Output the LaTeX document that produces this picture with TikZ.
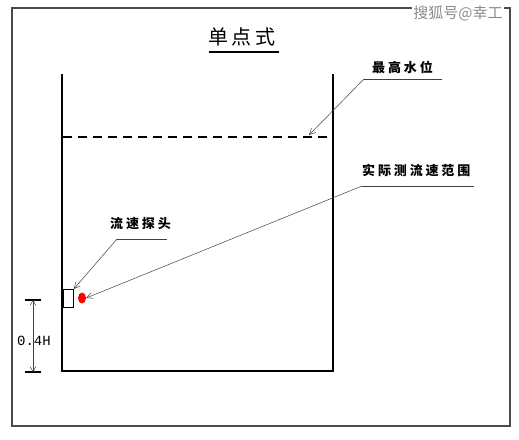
\documentclass[tikz,border=0pt]{standalone}
\usepackage{fontspec}
\newfontfamily\cjk{Noto Sans CJK SC}
\newfontfamily\cjksp[LetterSpace=22]{Noto Sans CJK SC}
\newfontfamily\cjkti[LetterSpace=18]{Noto Sans CJK SC}
\newfontfamily\monof{Liberation Mono}
\usetikzlibrary{arrows.meta,shapes.geometric}
\begin{document}
\begin{tikzpicture}[x=1pt,y=-1pt,
  lbl/.style={font=\cjksp\bfseries\fontsize{13}{13}\selectfont, inner sep=0pt, text=black},
  wall/.style={line width=2.6pt, line cap=rect},
  leader/.style={line width=0.5pt, draw=black!75},
  tip/.style={-{Straight Barb[length=6pt,width=6pt]}}]
\useasboundingbox (0,0) rectangle (519,439);
% frame
\draw[line width=1.4pt, draw=black!70] (12,8) rectangle (510,426);
% watermark
\node[fill=white, inner sep=1pt, font=\cjk\fontsize{15}{15}\selectfont, text=black!45] (wm) at (458,13) {搜狐号@幸工};
% title
\node[font=\cjkti\fontsize{20}{20}\selectfont, inner sep=0pt, anchor=west] (title) at (208,37) {单点式};
\draw[line width=1.3pt] (209,52) -- (279,52);
% tank
\coordinate (tl) at (62,75);
\coordinate (bl) at (62,371);
\coordinate (br) at (333,371);
\coordinate (tr) at (333,75);
\draw[wall] (tl) -- (bl) -- (br) -- (tr);
% water level
\draw[line width=1.3pt, dash pattern=on 9pt off 6pt] (63,137) -- (332,137);
% probe
\node[draw, line width=1.3pt, minimum width=10pt, minimum height=18pt, inner sep=0pt, anchor=north west] (probe) at (62.5,289) {};
\node[fill=red, ellipse, minimum width=8pt, minimum height=11pt, inner sep=0pt] (dot) at (82,298) {};
% labels
\node[lbl, anchor=south west] (l1) at (372,74) {最高水位};
\coordinate (l1a) at (364,79);
\coordinate (l1b) at (442,79);
\coordinate (l1t) at (309,135);
\draw[leader] (l1b) -- (l1a);
\draw[leader,tip] (l1a) -- (l1t);

\node[lbl, anchor=south west] (l2) at (362,177) {实际测流速范围};
\coordinate (l2a) at (362,186);
\coordinate (l2b) at (474,186);
\draw[leader] (l2b) -- (l2a);
\draw[leader,tip] (l2a) -- (dot.east);

\node[lbl, anchor=south west] (l3) at (110,230) {流速探头};
\coordinate (l3a) at (117,239);
\coordinate (l3b) at (167,239);
\draw[leader] (l3b) -- (l3a);
\draw[leader,tip] (l3a) -- (probe.north east);

% dimension
\coordinate (dt) at (33,300);
\coordinate (db) at (33,372);
\draw[line width=1.3pt] (25,300) -- (41,300);
\draw[line width=1.3pt] (25,372) -- (41,372);
\draw[leader, {Straight Barb[length=5pt,width=6pt]}-{Straight Barb[length=5pt,width=6pt]}] (dt) -- (db);
\node[font=\monof\fontsize{14}{16}\selectfont, inner sep=0pt] (dim) at (34,341) {0.4H};
\end{tikzpicture}
\end{document}
